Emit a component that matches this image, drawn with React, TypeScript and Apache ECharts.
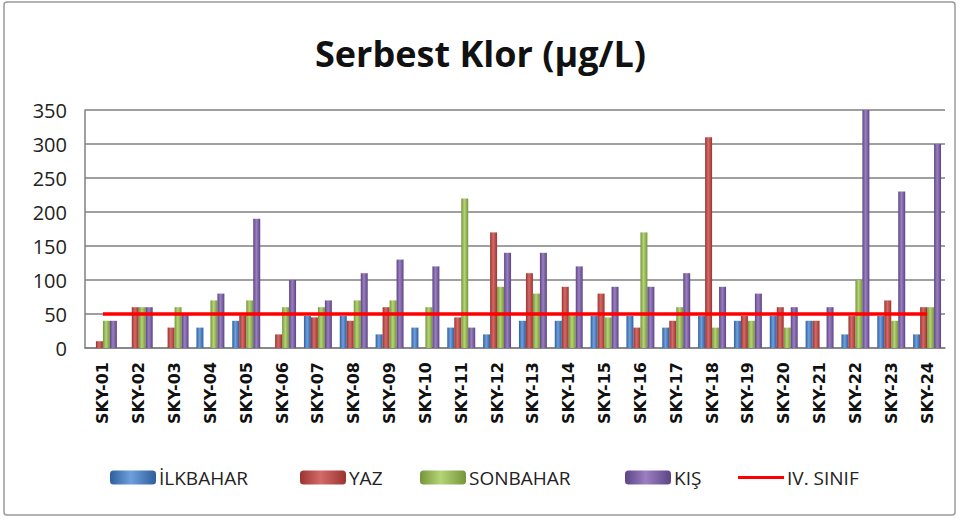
import React, { useEffect, useRef } from "react";
import * as echarts from "echarts";

const categories = [
  "SKY-01", "SKY-02", "SKY-03", "SKY-04", "SKY-05", "SKY-06", "SKY-07", "SKY-08",
  "SKY-09", "SKY-10", "SKY-11", "SKY-12", "SKY-13", "SKY-14", "SKY-15", "SKY-16",
  "SKY-17", "SKY-18", "SKY-19", "SKY-20", "SKY-21", "SKY-22", "SKY-23", "SKY-24",
];
const ilkbahar = [0, 0, 0, 30, 40, 0, 47, 47, 20, 30, 30, 20, 40, 40, 47, 47, 30, 47, 40, 47, 40, 20, 47, 20];
const yaz = [10, 60, 30, 0, 48, 20, 45, 40, 60, 0, 45, 170, 110, 90, 80, 30, 40, 310, 47, 60, 40, 47, 70, 60];
const sonbahar = [40, 60, 60, 70, 70, 60, 60, 70, 70, 60, 220, 90, 80, 47, 45, 170, 60, 30, 40, 30, 0, 100, 40, 60];
const kis = [40, 60, 50, 80, 190, 100, 70, 110, 130, 120, 30, 140, 140, 120, 90, 90, 110, 90, 80, 60, 60, 350, 230, 300];
const ivSinif = [50, 50, 50, 50, 50, 50, 50, 50, 50, 50, 50, 50, 50, 50, 50, 50, 50, 50, 50, 50, 50, 50, 50, 50];
const yTicks = { min: 0, max: 350, interval: 50 };
const legendNames = ["İLKBAHAR", "YAZ", "SONBAHAR", "KIŞ", "IV. SINIF"];

function grad(edge: string, mid: string) {
  return new echarts.graphic.LinearGradient(0, 0, 1, 0, [
    { offset: 0, color: edge },
    { offset: 0.45, color: mid },
    { offset: 1, color: edge },
  ]);
}

export default function App() {
  const ref = useRef<HTMLDivElement>(null);
  useEffect(() => {
    if (!ref.current) return;
    const chart = echarts.init(ref.current, undefined, { renderer: "svg" });
    const barSeries = (name: string, data: number[], edge: string, mid: string) => ({
      name,
      type: "bar",
      data,
      barGap: "0%",
      barCategoryGap: "22%",
      itemStyle: { color: grad(edge, mid) },
    });
    const legendLefts = [110, 300, 420, 625, 738];
    const lineIcon = "path://M0,0 L0.01,0 M0,5.5 L46,5.5 L46,8.5 L0,8.5 Z M46,14 L46.01,14";
    const legends = legendNames.map((name, i) => ({
      left: legendLefts[i],
      top: 468,
      padding: 0,
      itemWidth: 46,
      itemHeight: 14,
      itemGap: 4,
      textStyle: { fontFamily: "Open Sans", fontSize: 19, color: "#222", padding: [0, 0, 0, -2] },
      data: [i === 4 ? { name, icon: lineIcon } : { name }],
    }));
    chart.setOption({
      animation: false,
      backgroundColor: "#ffffff",
      title: {
        text: "Serbest Klor (µg/L)",
        left: "center",
        top: 30,
        textStyle: { fontFamily: "Open Sans", fontWeight: "bold", fontSize: 36, color: "#111" },
      },
      graphic: [
        {
          type: "rect",
          shape: { x: 4, y: 2, width: 951, height: 513, r: 3 },
          style: { fill: "none", stroke: "#9a9a9a", lineWidth: 1.5 },
          silent: true,
        },
      ],
      grid: { left: 85, right: 16, top: 110, bottom: 171 },
      legend: legends,
      xAxis: {
        type: "category",
        data: categories,
        axisLine: { lineStyle: { color: "#808080", width: 1.5 } },
        axisTick: { show: false },
        axisLabel: {
          rotate: 90,
          margin: 14,
          fontFamily: "DejaVu Sans",
          fontWeight: "bold",
          fontSize: 16,
          color: "#111",
          interval: 0,
        },
      },
      yAxis: {
        type: "value",
        min: yTicks.min,
        max: yTicks.max,
        interval: yTicks.interval,
        axisLine: { show: true, lineStyle: { color: "#808080", width: 1.5 } },
        axisTick: { show: false },
        axisLabel: { fontFamily: "Open Sans", fontSize: 20, color: "#222", margin: 18 },
        splitLine: { lineStyle: { color: "#808080", width: 1.5 } },
      },
      series: [
        barSeries("İLKBAHAR", ilkbahar, "#2e5f9c", "#6f9fdc"),
        barSeries("YAZ", yaz, "#9a3431", "#d56a67"),
        barSeries("SONBAHAR", sonbahar, "#76953a", "#b5d476"),
        barSeries("KIŞ", kis, "#5d4484", "#9a80c0"),
        {
          name: "IV. SINIF",
          type: "line",
          data: ivSinif,
          symbol: "none",
          lineStyle: { color: "#ff0000", width: 3.5 },
          itemStyle: { color: "#ff0000" },
          z: 5,
        },
      ],
    });
    return () => chart.dispose();
  }, []);
  return (
    <div
      ref={ref}
      style={{ position: "fixed", left: 0, top: 0, width: 961, height: 519 }}
    />
  );
}
